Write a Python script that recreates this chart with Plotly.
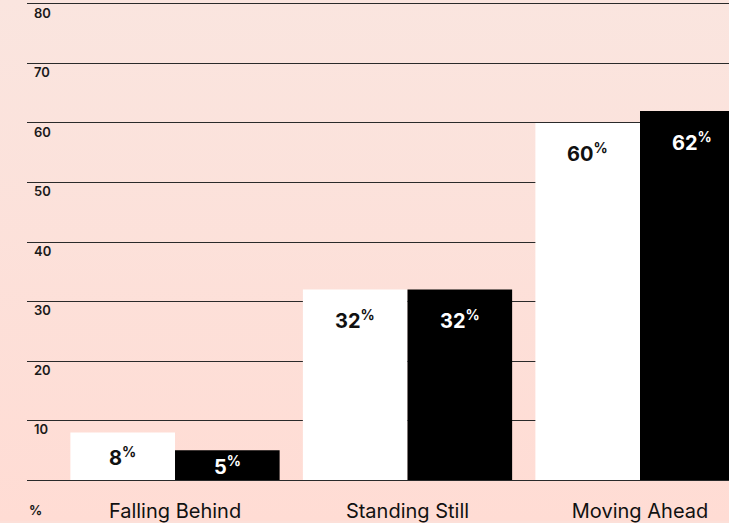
import base64
import plotly.graph_objects as go

categories = ["Falling Behind", "Standing Still", "Moving Ahead"]
series_white = [8, 32, 60]
series_black = [5, 32, 62]
y_tick_vals = [0, 10, 20, 30, 40, 50, 60, 70, 80]
y_tick_text = ["", "10", "20", "30", "40", "50", "60", "70", "80"]
unit_label = "%"

W, H = 729, 523
ML, MR, MT, MB = 27, 0, 1, 38
PLOT_W = W - ML - MR
PLOT_H = H - MT - MB
Y_RANGE = [-0.5, 80.5]
X_RANGE = [-0.6366, 2.3828]
BARGAP = 0.1
BAR_W = (1 - BARGAP) / 2
PX_PER_UNIT = PLOT_H / (Y_RANGE[1] - Y_RANGE[0])

FONT = "Inter, 'Noto Sans', sans-serif"

svg = f"""<svg xmlns='http://www.w3.org/2000/svg' width='{W}' height='{H}'>
<defs><linearGradient id='g' x1='0' y1='0' x2='0' y2='1'>
<stop offset='0' stop-color='#FAE5DF'/><stop offset='1' stop-color='#FFDCD4'/>
</linearGradient></defs><rect width='{W}' height='{H}' fill='url(#g)'/></svg>"""
bg_src = "data:image/svg+xml;base64," + base64.b64encode(svg.encode()).decode()

fig = go.Figure()
fig.add_trace(go.Bar(x=categories, y=series_white, marker=dict(color="#FFFFFF", line=dict(width=0)),
                     name="white", hoverinfo="skip"))
fig.add_trace(go.Bar(x=categories, y=series_black, marker=dict(color="#000000", line=dict(width=0)),
                     name="black", hoverinfo="skip"))

annotations = []
for series, offset, color in [(series_white, -BAR_W / 2, "#111111"), (series_black, BAR_W / 2, "#FFFFFF")]:
    for i, v in enumerate(series):
        half_px = v * PX_PER_UNIT / 2
        if half_px < 30:
            y, ys = v / 2, 0
        else:
            y, ys = v, -30
        annotations.append(dict(
            x=i + offset, y=y, xref="x", yref="y", yshift=ys,
            text=f"<b>{v}<sup>%</sup></b>", showarrow=False,
            font=dict(family=FONT, size=20, color=color),
            xanchor="center", yanchor="middle",
        ))

annotations.append(dict(
    x=0, y=0, xref="x domain", yref="y", yshift=-30, text=f"<b>{unit_label}</b>",
    showarrow=False, xanchor="left", yanchor="middle",
    font=dict(family=FONT, size=13, color="#1a1a1a"),
))

fig.update_layout(
    width=W, height=H,
    margin=dict(l=ML, r=MR, t=MT, b=MB, pad=0),
    paper_bgcolor="#FCE0D9",
    plot_bgcolor="rgba(0,0,0,0)",
    barmode="group", bargap=BARGAP, bargroupgap=0,
    showlegend=False,
    annotations=annotations,
    images=[dict(source=bg_src, xref="paper", yref="paper",
                 x=-ML / PLOT_W, y=1 + MT / PLOT_H, sizex=W / PLOT_W, sizey=H / PLOT_H,
                 xanchor="left", yanchor="top", sizing="stretch", layer="below")],
    xaxis=dict(range=X_RANGE, showgrid=False, zeroline=False, showline=False, ticks="",
               ticklabelstandoff=14,
               tickfont=dict(family=FONT, size=20, color="#111111")),
    yaxis=dict(range=Y_RANGE, tickvals=y_tick_vals, ticktext=y_tick_text,
               showgrid=True, gridcolor="#2a2a2a", gridwidth=1,
               zeroline=True, zerolinecolor="#2a2a2a", zerolinewidth=1,
               showline=False, ticks="", ticklabelposition="inside bottom",
               ticklabelstandoff=4,
               tickfont=dict(family=FONT, size=13, color="#1a1a1a", weight=600)),
)

fig.write_html(
    "out.html",
    config={"displayModeBar": False},
    post_script="document.body.style.margin='0';document.body.style.overflow='hidden';",
)
